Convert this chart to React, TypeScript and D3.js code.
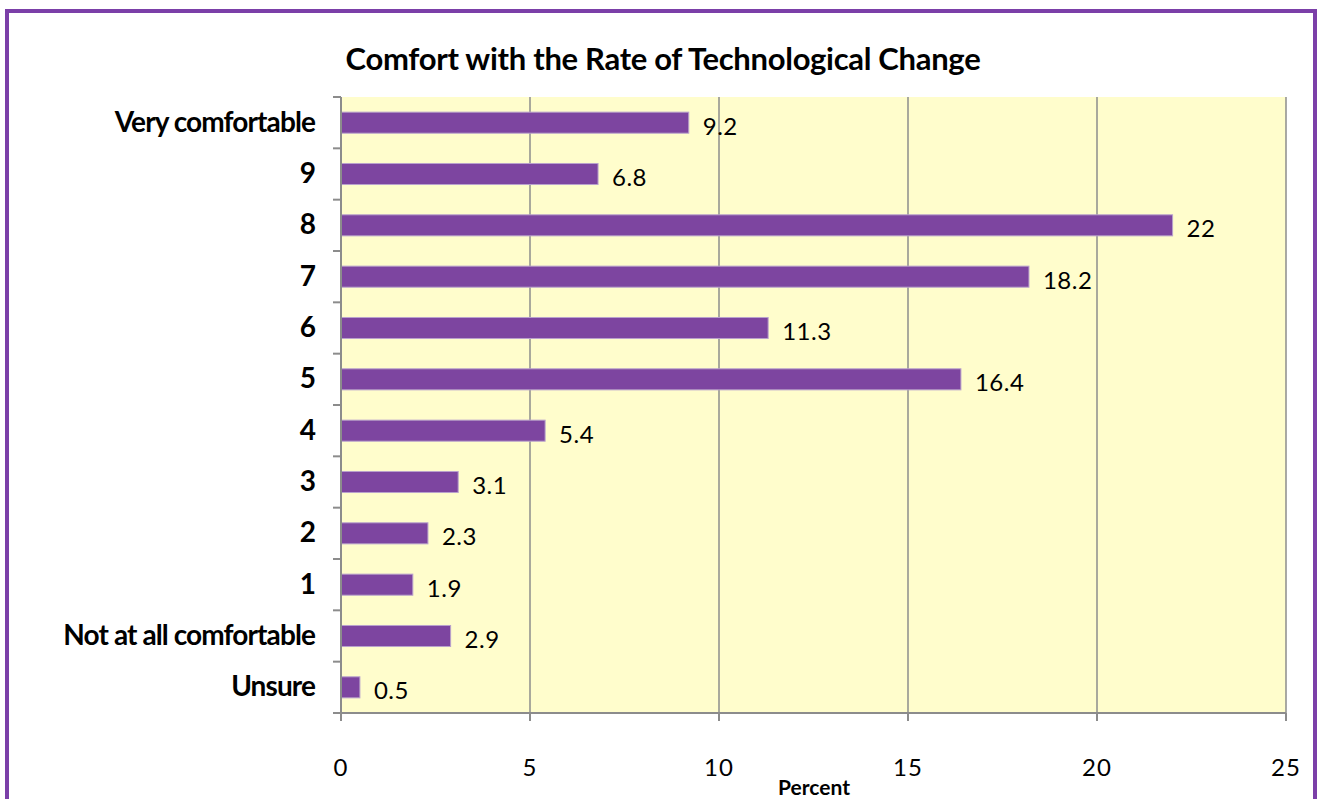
import React from "react";
import * as d3 from "d3";

const categories = ["Very comfortable", "9", "8", "7", "6", "5", "4", "3", "2", "1", "Not at all comfortable", "Unsure"];
const values = [9.2, 6.8, 22, 18.2, 11.3, 16.4, 5.4, 3.1, 2.3, 1.9, 2.9, 0.5];
const xTicks = [0, 5, 10, 15, 20, 25];
const title = "Comfort with the Rate of Technological Change";
const xTitle = "Percent";

const W = 1319, H = 799;
const left = 341, right = 1286, top = 97, bottom = 713;
const FONT = "Lato, 'Open Sans', sans-serif";

export default function App() {
  const x = d3.scaleLinear().domain([0, 25]).range([left, right]);
  const y = d3.scaleBand<string>().domain(categories).range([top, bottom]).paddingInner(0.59).paddingOuter(0.295);
  const band = (bottom - top) / categories.length;
  const boundaries = d3.range(categories.length + 1).map(i => top + i * band);
  return (
    <svg width={W} height={H} style={{ position: "absolute", left: 0, top: 0 }}>
      <rect x={0} y={0} width={W} height={H} fill="#fff" />
      <rect x={7} y={11} width={1308} height={820} fill="#fff" stroke="#7B3FA8" strokeWidth={4} />
      <rect x={left} y={top} width={right - left} height={bottom - top} fill="#FFFDCC" />
      {xTicks.slice(1).map(t => (
        <line key={t} x1={x(t)} x2={x(t)} y1={top} y2={bottom} stroke="#8C8C8C" strokeWidth={1.5} />
      ))}
      {categories.map((c, i) => (
        <rect key={c} x={x(0)} y={y(c)!} width={x(values[i]) - x(0)} height={y.bandwidth()} fill="#7D45A0" stroke="#B9A2CC" strokeWidth={1} />
      ))}
      <line x1={left} x2={left} y1={top} y2={bottom} stroke="#8C8C8C" strokeWidth={2} />
      <line x1={left - 8} x2={right} y1={bottom} y2={bottom} stroke="#8C8C8C" strokeWidth={2} />
      {boundaries.map((b, i) => (
        <line key={i} x1={left - 8} x2={left} y1={b} y2={b} stroke="#8C8C8C" strokeWidth={2} />
      ))}
      {xTicks.map(t => (
        <line key={t} x1={x(t)} x2={x(t)} y1={bottom} y2={bottom + 8} stroke="#8C8C8C" strokeWidth={2} />
      ))}
      {xTicks.map(t => (
        <text key={t} x={x(t)} y={776} textAnchor="middle" fontFamily={FONT} fontSize={24} letterSpacing={1} fill="#000">{t}</text>
      ))}
      <text x={814} y={795} textAnchor="middle" fontFamily={FONT} fontSize={21} fontWeight="bold" fill="#000">{xTitle}</text>
      <text x={663} y={70} textAnchor="middle" fontFamily={FONT} fontSize={31} fontWeight="bold" fill="#000" letterSpacing={-0.3}>{title}</text>
      {categories.map(c => (
        <text key={c} x={315} y={y(c)! + y.bandwidth() / 2 + 9} textAnchor="end" fontFamily={FONT} fontSize={28} fontWeight="bold" letterSpacing={-0.9} fill="#000">{c}</text>
      ))}
      {categories.map((c, i) => (
        <text key={c} x={x(values[i]) + 14} y={y(c)! + y.bandwidth() / 2 + 12} fontFamily={FONT} fontSize={24} letterSpacing={0.5} fill="#000">{values[i]}</text>
      ))}
    </svg>
  );
}
